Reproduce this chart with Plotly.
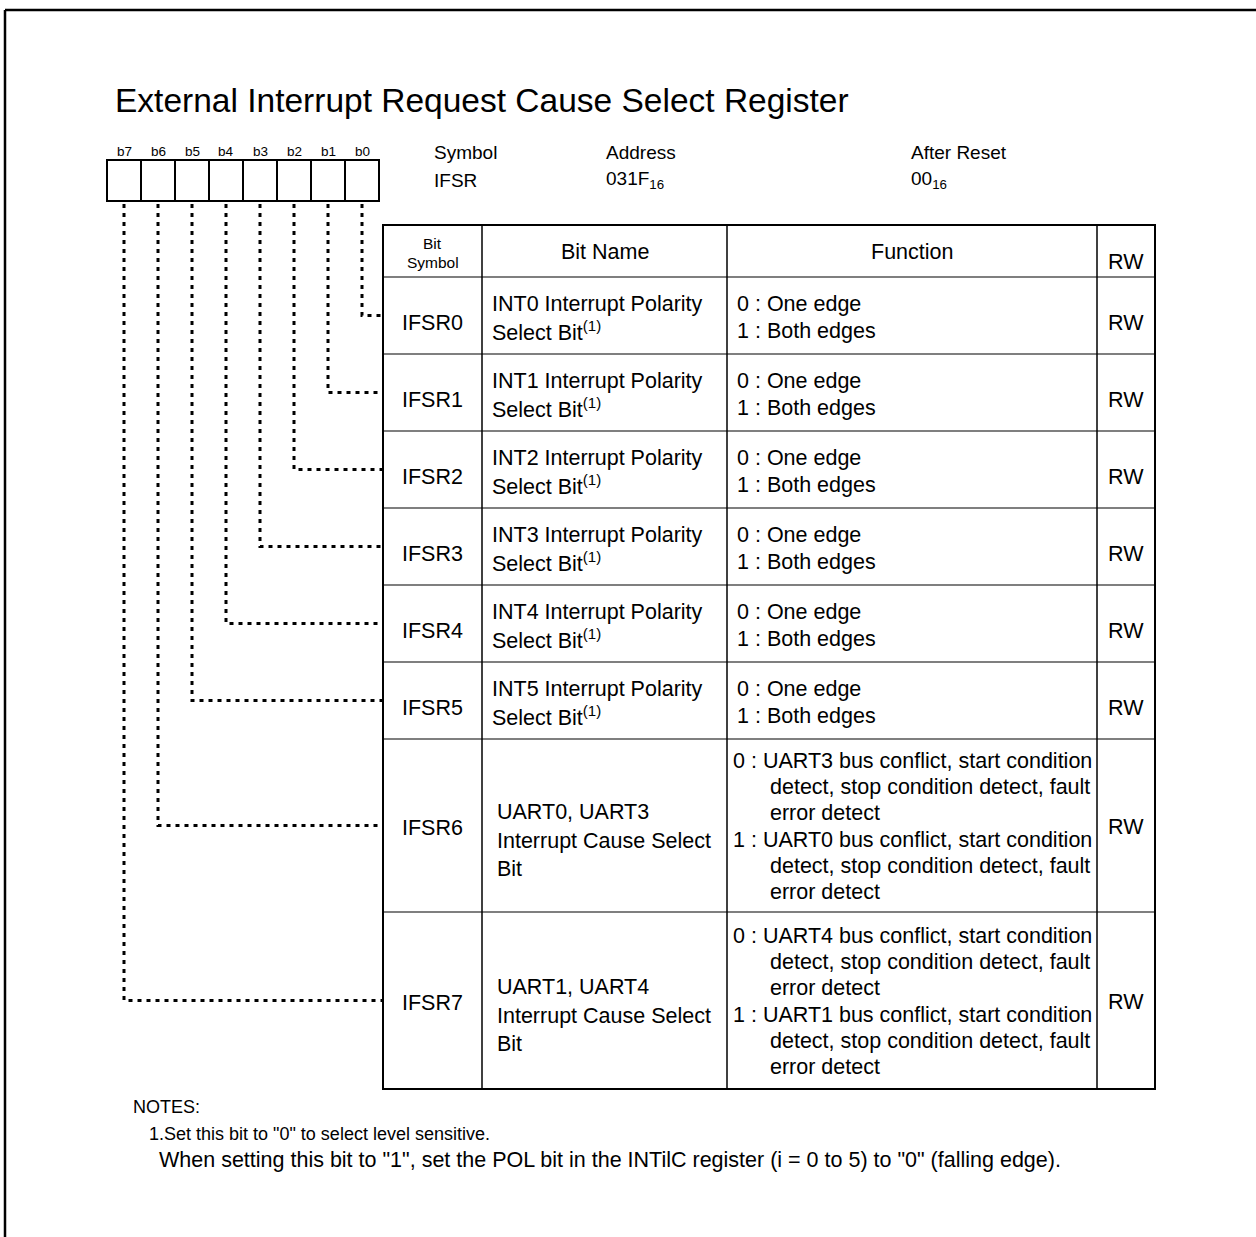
import plotly.graph_objects as go

# ---------------- data ----------------
title_text = "External Interrupt Request Cause Select Register"
bit_labels = ["b7", "b6", "b5", "b4", "b3", "b2", "b1", "b0"]
info_heads = ["Symbol", "Address", "After Reset"]
info_values = ["IFSR", "031F<sub>16</sub>", "00<sub>16</sub>"]
header_cols = ["Bit<br>Symbol", "Bit Name", "Function", "RW"]
bit_symbols = ["IFSR0", "IFSR1", "IFSR2", "IFSR3", "IFSR4", "IFSR5", "IFSR6", "IFSR7"]
bit_names = [
    ["INT0 Interrupt Polarity", "Select Bit<sup>(1)</sup>"],
    ["INT1 Interrupt Polarity", "Select Bit<sup>(1)</sup>"],
    ["INT2 Interrupt Polarity", "Select Bit<sup>(1)</sup>"],
    ["INT3 Interrupt Polarity", "Select Bit<sup>(1)</sup>"],
    ["INT4 Interrupt Polarity", "Select Bit<sup>(1)</sup>"],
    ["INT5 Interrupt Polarity", "Select Bit<sup>(1)</sup>"],
    ["UART0, UART3", "Interrupt Cause Select", "Bit"],
    ["UART1, UART4", "Interrupt Cause Select", "Bit"],
]
# (text, indented?)
functions = [
    [("0 : One edge", False), ("1 : Both edges", False)],
    [("0 : One edge", False), ("1 : Both edges", False)],
    [("0 : One edge", False), ("1 : Both edges", False)],
    [("0 : One edge", False), ("1 : Both edges", False)],
    [("0 : One edge", False), ("1 : Both edges", False)],
    [("0 : One edge", False), ("1 : Both edges", False)],
    [("0 : UART3 bus conflict, start condition", False),
     ("detect, stop condition detect, fault", True),
     ("error detect", True),
     ("1 : UART0 bus conflict, start condition", False),
     ("detect, stop condition detect, fault", True),
     ("error detect", True)],
    [("0 : UART4 bus conflict, start condition", False),
     ("detect, stop condition detect, fault", True),
     ("error detect", True),
     ("1 : UART1 bus conflict, start condition", False),
     ("detect, stop condition detect, fault", True),
     ("error detect", True)],
]
rw_values = ["RW"] * 8
notes = [
    "NOTES:",
    "1.Set this bit to \"0\" to select level sensitive.",
    "When setting this bit to \"1\", set the POL bit in the INTilC register (i = 0 to 5) to \"0\" (falling edge).",
]

# ---------------- layout geometry ----------------
W, H = 1256, 1237
FONT = "Liberation Sans, Arial, sans-serif"
BODY = 21.5
bit_x0, bit_w, bit_top, bit_bot = 107, 34, 160, 201
col_x = [383, 482, 727, 1097, 1155]
table_top, header_bot = 225, 277
row_h = [77, 77, 77, 77, 77, 77, 173, 177]

row_edges = [header_bot]
for h in row_h:
    row_edges.append(row_edges[-1] + h)
row_centers = [(row_edges[i] + row_edges[i + 1]) / 2 for i in range(len(row_h))]

shapes = []
annots = []


def line(x0, y0, x1, y1, w=1, dash=None):
    d = dict(type="line", xref="x", yref="y", x0=x0, y0=y0, x1=x1, y1=y1,
             line=dict(color="black", width=w))
    if dash:
        d["line"]["dash"] = dash
    shapes.append(d)


def text(x, y, s, size=BODY, xanchor="left", yanchor="middle", family=FONT):
    annots.append(dict(x=x, y=y, xref="x", yref="y", text=s, showarrow=False,
                       xanchor=xanchor, yanchor=yanchor,
                       font=dict(family=family, size=size, color="black")))


# outer page frame (top and left edges visible)
line(5, 10, W + 5, 10, 2.5)
line(5, 10, 5, H + 5, 2.5)

# title
text(113, 100, title_text, size=33.5)

# bit boxes
shapes.append(dict(type="rect", xref="x", yref="y", x0=bit_x0, y0=bit_top,
                   x1=bit_x0 + 8 * bit_w, y1=bit_bot, line=dict(color="black", width=2)))
for k in range(1, 8):
    line(bit_x0 + k * bit_w, bit_top, bit_x0 + k * bit_w, bit_bot, 2)
for k, lab in enumerate(bit_labels):
    text(bit_x0 + k * bit_w + bit_w / 2, 151, lab, size=13.5, xanchor="center")

# info header
info_x = [432, 604, 909]
for x, h_, v in zip(info_x, info_heads, info_values):
    text(x, 152, h_, size=19)
    text(x, 180, v, size=19)

# dotted leader lines
for i in range(8):
    k = 7 - i
    cx = bit_x0 + k * bit_w + bit_w / 2
    yc = row_centers[i]
    shapes.append(dict(type="path", xref="x", yref="y",
                       path=f"M {cx},{bit_bot + 3} L {cx},{yc} L {col_x[0]},{yc}",
                       line=dict(color="black", width=3, dash="4px,5px")))

# table frame
tb = row_edges[-1]
shapes.append(dict(type="rect", xref="x", yref="y", x0=col_x[0], y0=table_top,
                   x1=col_x[-1], y1=tb, line=dict(color="black", width=2)))
for x in col_x[1:-1]:
    line(x, table_top, x, tb, 1.5)
for y in row_edges[:-1]:
    line(col_x[0], y, col_x[-1], y, 1.2)

# header texts
text((col_x[0] + col_x[1]) / 2, 243, "Bit", size=15.5, xanchor="center")
text((col_x[0] + col_x[1]) / 2, 262, "Symbol", size=15.5, xanchor="center")
text((col_x[1] + col_x[2]) / 2, 252, header_cols[1], xanchor="center")
text((col_x[2] + col_x[3]) / 2, 252, header_cols[2], xanchor="center")
text((col_x[3] + col_x[4]) / 2, 262, header_cols[3], xanchor="center")

# rows
for i in range(8):
    yc = row_centers[i]
    big = len(functions[i]) > 2
    text((col_x[0] + col_x[1]) / 2, yc + (2 if big else 7), bit_symbols[i], xanchor="center")
    # bit name
    nl = bit_names[i]
    sp = 28.5 if big else 27
    off = 15 if big else 2
    name_x = 495 if big else 490
    for j, s in enumerate(nl):
        yy = yc + off + (j - (len(nl) - 1) / 2) * sp
        text(name_x, yy, s)
    # functions
    fl = functions[i]
    sp = 26.3 if big else 27
    off = 1 if big else 2
    fx = 731 if big else 735
    for j, (s, ind) in enumerate(fl):
        yy = yc + off + (j - (len(fl) - 1) / 2) * sp
        text(fx + (37 if ind else 0), yy, s)
    text((col_x[3] + col_x[4]) / 2, yc + (1 if big else 7), rw_values[i], xanchor="center")

# notes
text(131, 1107, notes[0], size=18)
text(147, 1134, notes[1], size=18)
text(157, 1160, notes[2], size=21.5)

fig = go.Figure()
fig.update_layout(
    width=W, height=H,
    margin=dict(l=0, r=0, t=0, b=0),
    paper_bgcolor="white", plot_bgcolor="white",
    xaxis=dict(range=[0, W], visible=False, fixedrange=True),
    yaxis=dict(range=[H, 0], visible=False, fixedrange=True),
    shapes=shapes, annotations=annots, showlegend=False,
)
fig.write_html("out.html", config={"displayModeBar": False},
               post_script="document.body.style.margin='0';document.body.style.overflow='hidden';")
